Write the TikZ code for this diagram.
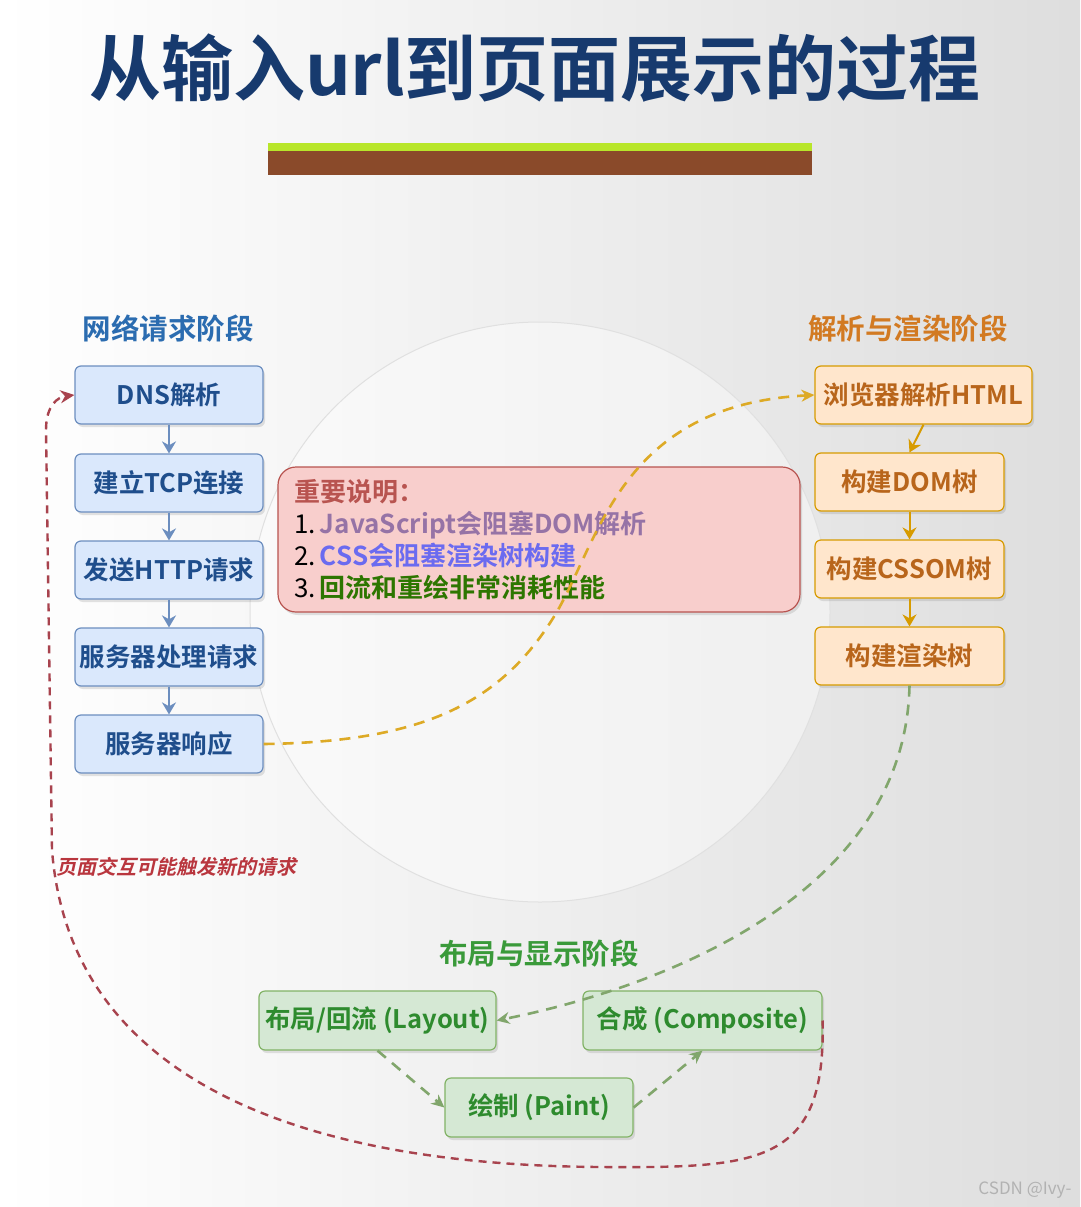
\documentclass[tikz,border=0pt]{standalone}
\usepackage{fontspec}
\setmainfont{Noto Sans CJK SC}[BoldFont={Noto Sans CJK SC Bold}]
\newfontfamily\slantcjk{Noto Sans CJK SC Bold}[FakeSlant=0.22]
\usepackage{tikz}
\usetikzlibrary{arrows.meta,positioning,shadows}
\definecolor{titleblue}{HTML}{173A6E}
\definecolor{netfill}{HTML}{DAE8FC}
\definecolor{netline}{HTML}{6C8EBF}
\definecolor{nettext}{HTML}{1F4E8C}
\definecolor{nethead}{HTML}{2B6CB0}
\definecolor{parsefill}{HTML}{FFE6CC}
\definecolor{parseline}{HTML}{D79B00}
\definecolor{parsetext}{HTML}{B8651B}
\definecolor{parsehead}{HTML}{D27A22}
\definecolor{layfill}{HTML}{D5E8D4}
\definecolor{layline}{HTML}{82B366}
\definecolor{laytext}{HTML}{2E8B2E}
\definecolor{layhead}{HTML}{3A9A3A}
\definecolor{notefill}{HTML}{F8CECC}
\definecolor{noteline}{HTML}{B85450}
\definecolor{jspurple}{HTML}{9673A6}
\definecolor{cssblue}{HTML}{6B6BF0}
\definecolor{reflowgreen}{HTML}{2D7600}
\definecolor{loopred}{HTML}{A8434E}
\definecolor{grassgreen}{HTML}{B8E62A}
\definecolor{soilbrown}{HTML}{8A4A2A}
\tikzset{
  stagebox/.style={draw, rounded corners=6pt, line width=1.2pt, minimum height=58pt, inner sep=2pt, align=center, font=\fontsize{25.5}{28}\selectfont\bfseries, drop shadow={opacity=0.22, shadow xshift=2pt, shadow yshift=-3pt}},
  netbox/.style={stagebox, fill=netfill, draw=netline, text=nettext, minimum width=188pt},
  parsebox/.style={stagebox, fill=parsefill, draw=parseline, text=parsetext, minimum width=189pt},
  laybox/.style={stagebox, fill=layfill, draw=layline, text=laytext, minimum width=188pt, minimum height=59pt},
  notebox/.style={draw=noteline, fill=notefill, rounded corners=18pt, line width=1.2pt, minimum width=522pt, minimum height=145pt, text width=490pt, align=left, font=\fontsize{26}{32}\selectfont, drop shadow={opacity=0.22, shadow xshift=2pt, shadow yshift=-3pt}},
  phasehead/.style={font=\fontsize{28.5}{30}\selectfont\bfseries},
  netarrow/.style={-{Stealth[length=12pt,width=14pt]}, line width=2pt, draw=netline},
  parsearrow/.style={-{Stealth[length=12pt,width=14pt]}, line width=2pt, draw=parseline},
  htmlflow/.style={-{Stealth[length=13pt,width=12pt]}, line width=2.6pt, draw=parseline!85!white, dash pattern=on 11pt off 8pt},
  layflow/.style={-{Stealth[length=13pt,width=12pt]}, line width=2.6pt, draw=layline!75!gray, dash pattern=on 11pt off 8pt},
  loopflow/.style={-{Stealth[length=14pt,width=13pt]}, line width=2.4pt, draw=loopred, dash pattern=on 8pt off 6pt}
}
\begin{document}
\begin{tikzpicture}[x=1pt,y=-1pt]
  \useasboundingbox (0,0) rectangle (1080,1207);
  \shade[left color=white, right color=black!13] (0,0) rectangle (1080,1207);
  \node[font=\fontsize{72}{76}\selectfont\bfseries, text=titleblue] (title) at (535,68) {从输入url到页面展示的过程};
  \fill[soilbrown] (268,150) rectangle (812,175);
  \fill[grassgreen] (268,143) rectangle (812,151);
  \draw[black!12, line width=1pt, fill=white, fill opacity=0.4] (540,612) circle[radius=290];

  \node[phasehead, text=nethead] (nethead) at (168,329) {网络请求阶段};
  \node[phasehead, text=parsehead] (parsehead) at (908,329) {解析与渲染阶段};
  \node[phasehead, text=layhead] (layhead) at (539,954) {布局与显示阶段};

  \node[netbox] (dns) at (169,395) {DNS解析};
  \node[netbox] (tcp) at (169,483) {建立TCP连接};
  \node[netbox] (http) at (169,570) {发送HTTP请求};
  \node[netbox] (handle) at (169,657) {服务器处理请求};
  \node[netbox] (respond) at (169,744) {服务器响应};
  \draw[netarrow] (dns) -- (tcp);
  \draw[netarrow] (tcp) -- (http);
  \draw[netarrow] (http) -- (handle);
  \draw[netarrow] (handle) -- (respond);

  \node[parsebox, minimum width=217pt] (html) at (923.5,395) {浏览器解析HTML};
  \node[parsebox] (dom) at (909.5,482) {构建DOM树};
  \node[parsebox] (cssom) at (909.5,569) {构建CSSOM树};
  \node[parsebox] (render) at (909.5,656) {构建渲染树};
  \draw[parsearrow] (html.south) -- (dom.north);
  \draw[parsearrow] (dom) -- (cssom);
  \draw[parsearrow] (cssom) -- (render);

  \node[notebox] (note) at (539,539.5) {{\bfseries\color{noteline}重要说明：}\\
    1.\,{\bfseries\color{jspurple}JavaScript会阻塞DOM解析}\\
    2.\,{\bfseries\color{cssblue}CSS会阻塞渲染树构建}\\
    3.\,{\bfseries\color{reflowgreen}回流和重绘非常消耗性能}};

  \node[laybox, minimum width=237pt] (layout) at (377.5,1020.5) {布局/回流 (Layout)};
  \node[laybox, minimum width=239pt] (composite) at (702.5,1020.5) {合成 (Composite)};
  \node[laybox] (paint) at (539,1107.5) {绘制 (Paint)};
  \draw[layflow] (layout.south) -- (paint.west);
  \draw[layflow] (paint.east) -- (composite.south);

  \draw[htmlflow] (respond.east) .. controls (420,742) and (500,705) .. (555,615) .. controls (600,540) and (620,405) .. (html.west);
  \draw[layflow] (render.south) .. controls (905,900) and (650,990) .. (layout.east);
  \draw[loopflow] (composite.east) .. controls (826,1165) and (760,1168) .. (600,1167) .. controls (300,1165) and (70,1080) .. (52,850) -- (46,430) .. controls (46,405) and (58,397) .. (dns.west);
  \node[anchor=west, text=loopred!80!red, font=\slantcjk\fontsize{20}{24}\selectfont] (looptext) at (53,867) {页面交互可能触发新的请求};
  \node[anchor=east, text=black!30, font=\fontsize{17}{20}\selectfont] (mark) at (1075,1190) {CSDN @Ivy-};
\end{tikzpicture}
\end{document}
